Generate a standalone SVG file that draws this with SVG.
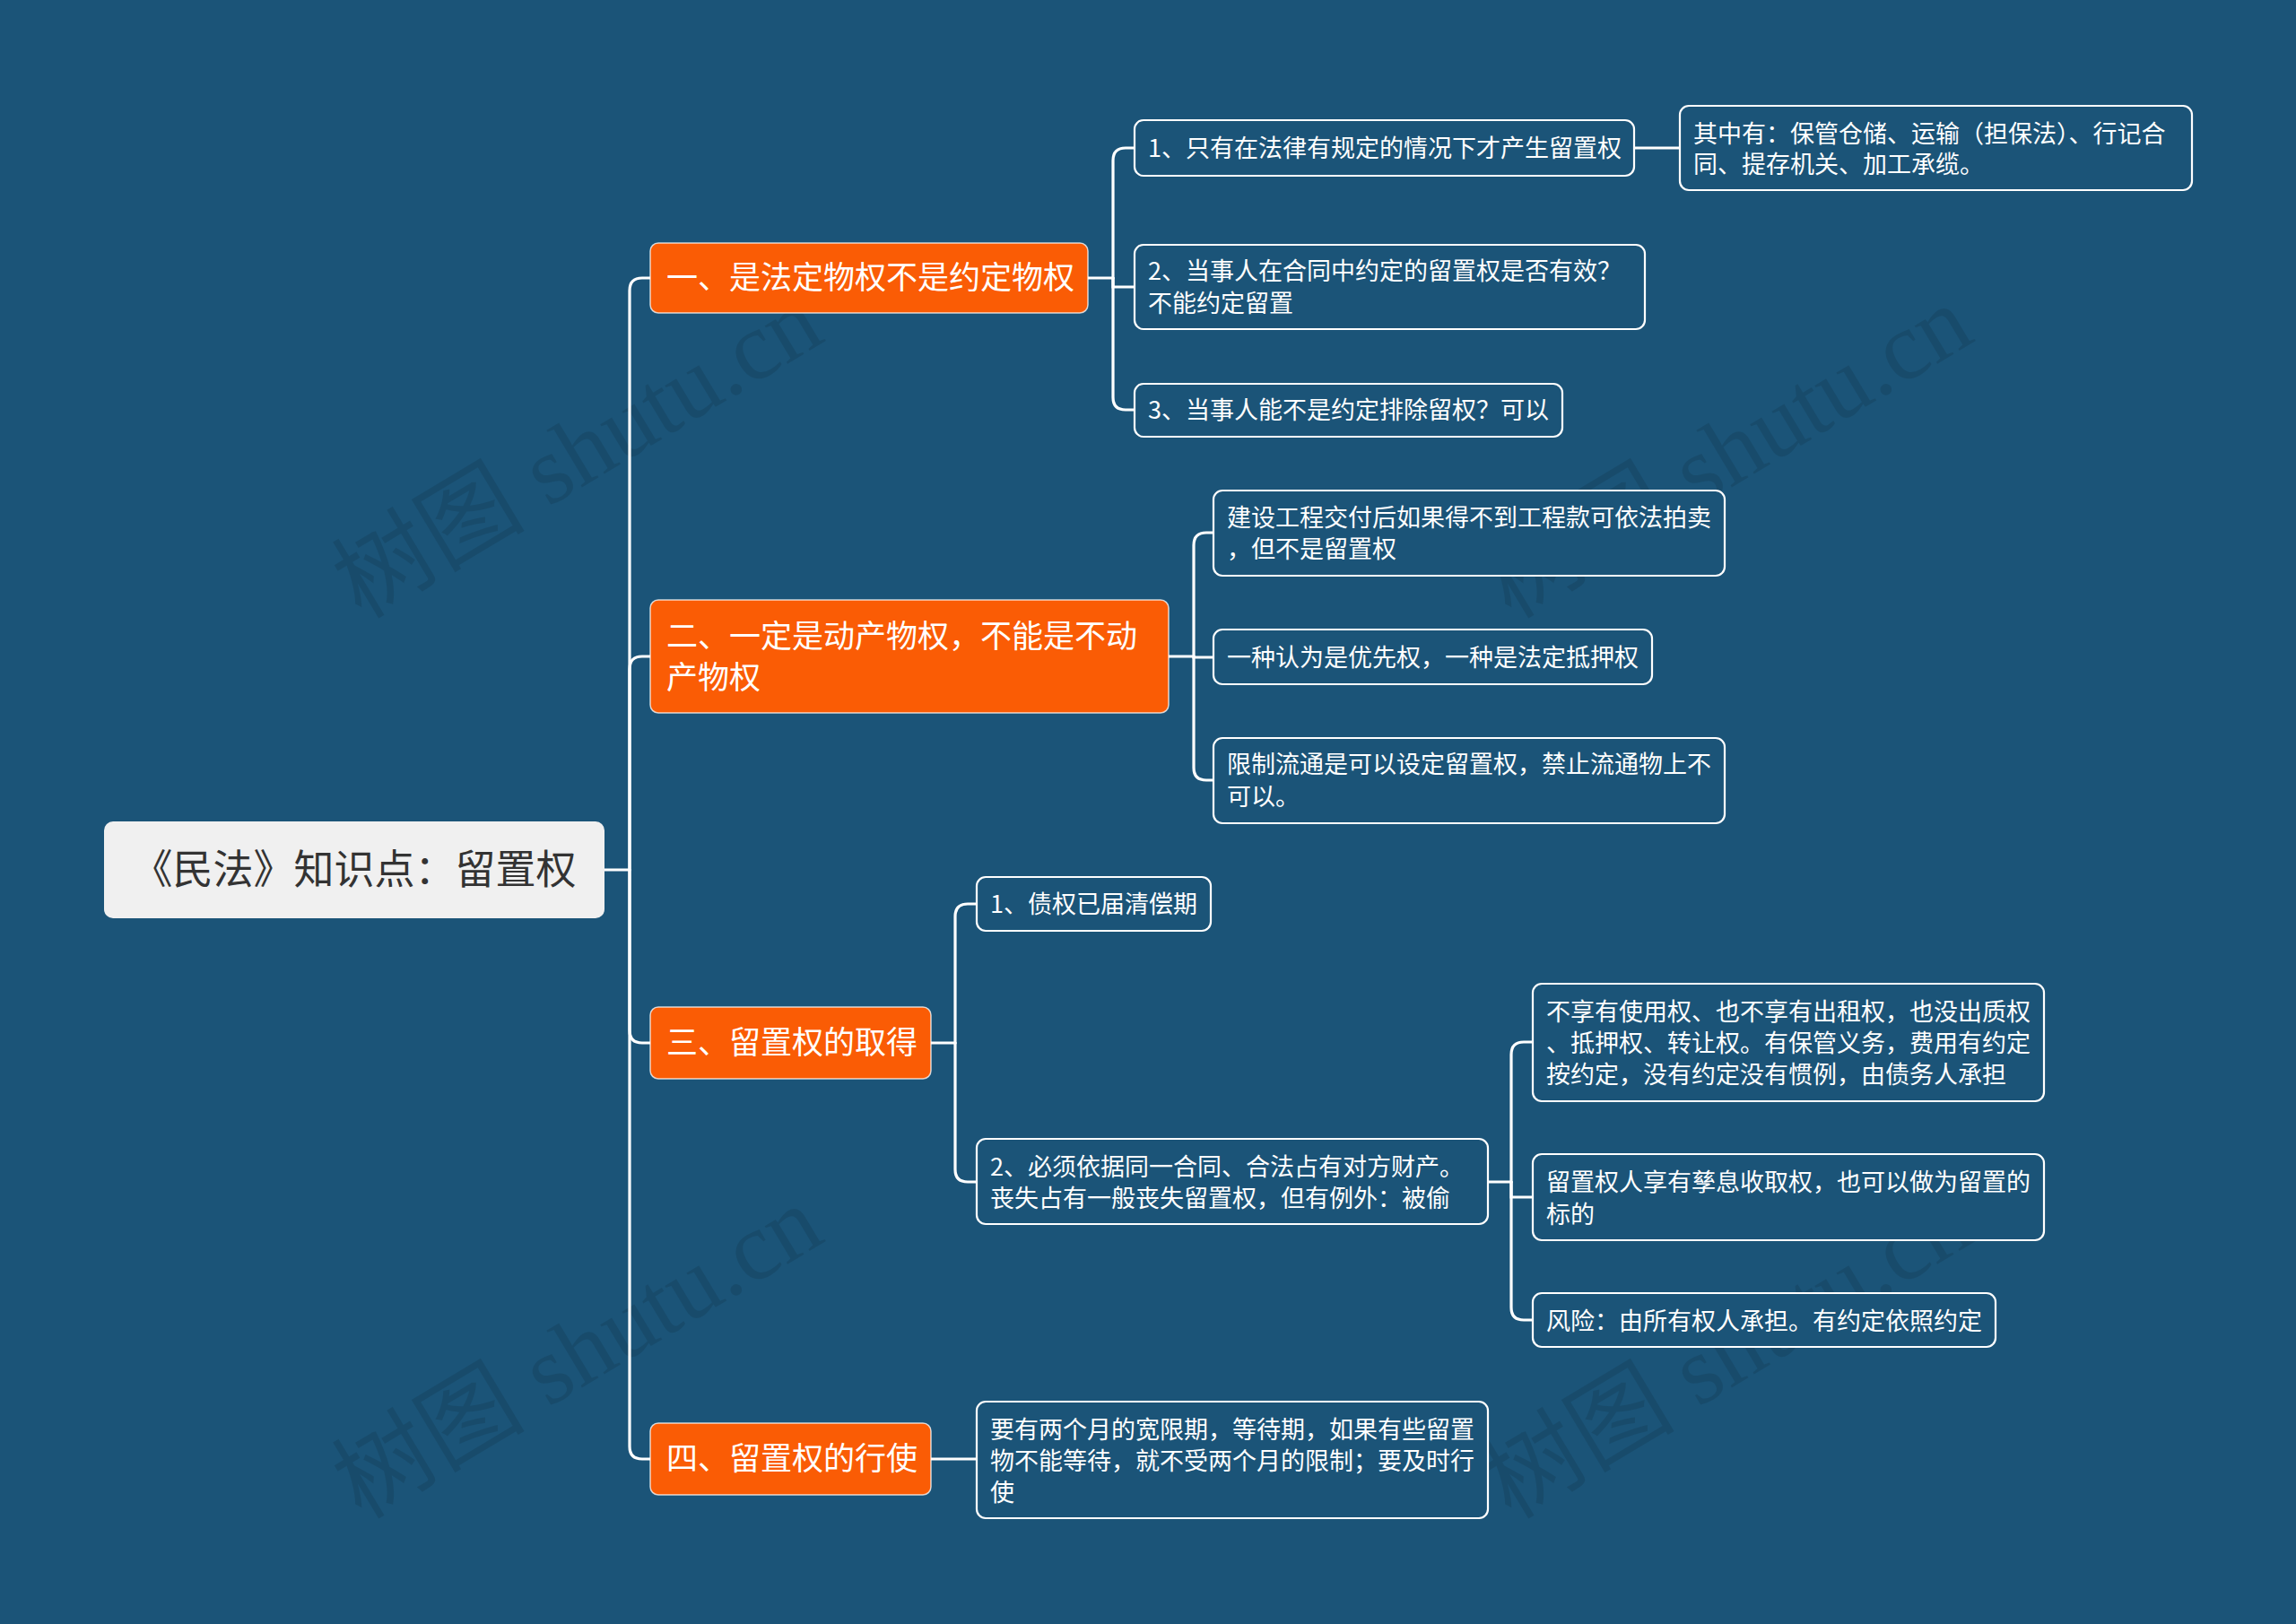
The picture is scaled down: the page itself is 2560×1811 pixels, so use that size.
<svg xmlns="http://www.w3.org/2000/svg" width="2560" height="1811" viewBox="0 0 2560 1811">
<style>
.bg{fill:#1b5478}
.root rect{fill:#f0f0f0}
.root text{fill:#333;font-size:45px}
.br rect{fill:#fa5c05;stroke:#ffffff;stroke-opacity:.75;stroke-width:1.5}
.br text{fill:#fff;font-size:35px}
.lf rect{fill:#1b5478;stroke:#ffffff;stroke-width:2.2}
.lf text{fill:#fff;font-size:27px}
text{font-family:"Noto Sans CJK SC","Noto Sans",sans-serif}
.conn path{fill:none;stroke:#ffffff;stroke-width:3.2;stroke-linecap:round}
.wm{fill:#000;fill-opacity:.1;font-family:"Liberation Serif","Noto Sans CJK SC",serif;font-size:108px}
</style>
<rect class="bg" x="0" y="0" width="2560" height="1811"/>
<g id="watermarks">
<text class="wm" x="645" y="540" text-anchor="middle" transform="rotate(-31 645 506)">树图 shutu.cn</text>
<text class="wm" x="1927" y="540" text-anchor="middle" transform="rotate(-31 1927 506)">树图 shutu.cn</text>
<text class="wm" x="645" y="1544" text-anchor="middle" transform="rotate(-31 645 1510)">树图 shutu.cn</text>
<text class="wm" x="1927" y="1544" text-anchor="middle" transform="rotate(-31 1927 1510)">树图 shutu.cn</text>
</g>
<g id="connectors" class="conn">
<path d="M674 970 H702"/>
<path d="M702 970 V324 Q702 310 716 310 H725"/>
<path d="M702 970 V746 Q702 732 716 732 H725"/>
<path d="M702 970 V1149 Q702 1163 716 1163 H725"/>
<path d="M702 970 V1613 Q702 1627 716 1627 H725"/>
<path d="M1213 310 H1241"/>
<path d="M1241 310 V179 Q1241 165 1255 165 H1265"/>
<path d="M1241 310 V320 H1265"/>
<path d="M1241 310 V443 Q1241 457 1255 457 H1265"/>
<path d="M1822 165 H1873"/>
<path d="M1303 732 H1331"/>
<path d="M1331 732 V608 Q1331 594 1345 594 H1353"/>
<path d="M1331 732 V733 H1353"/>
<path d="M1331 732 V856 Q1331 870 1345 870 H1353"/>
<path d="M1038 1163 H1065"/>
<path d="M1065 1163 V1022 Q1065 1008 1079 1008 H1089"/>
<path d="M1065 1163 V1304 Q1065 1318 1079 1318 H1089"/>
<path d="M1659 1318 H1685"/>
<path d="M1685 1318 V1176 Q1685 1162 1699 1162 H1709"/>
<path d="M1685 1318 V1335 H1709"/>
<path d="M1685 1318 V1458 Q1685 1472 1699 1472 H1709"/>
<path d="M1038 1627 H1089"/>
</g>
<g id="root" class="root">
<rect x="116" y="916" width="558" height="108" rx="10"/>
<text x="395" y="986" text-anchor="middle">《民法》知识点：留置权</text>
</g>
<g id="b1" class="br">
<rect x="725" y="271" width="488" height="78" rx="9"/>
<text x="743" y="322">一、是法定物权不是约定物权</text>
</g>
<g id="b2" class="br">
<rect x="725" y="669" width="578" height="126" rx="9"/>
<text x="743" y="722">二、一定是动产物权，不能是不动</text>
<text x="743" y="768">产物权</text>
</g>
<g id="b3" class="br">
<rect x="725" y="1123" width="313" height="80" rx="9"/>
<text x="743" y="1175">三、留置权的取得</text>
</g>
<g id="b4" class="br">
<rect x="725" y="1587" width="313" height="80" rx="9"/>
<text x="743" y="1639">四、留置权的行使</text>
</g>
<g id="l1a" class="lf">
<rect x="1265" y="134" width="557" height="62" rx="10"/>
<text x="1280" y="175">1、只有在法律有规定的情况下才产生留置权</text>
</g>
<g id="l1a1" class="lf">
<rect x="1873" y="118" width="571" height="94" rx="10"/>
<text x="1888" y="159">其中有：保管仓储、运输（担保法）、行记合</text>
<text x="1888" y="193">同、提存机关、加工承缆。</text>
</g>
<g id="l1b" class="lf">
<rect x="1265" y="273" width="569" height="94" rx="10"/>
<text x="1280" y="312">2、当事人在合同中约定的留置权是否有效？</text>
<text x="1280" y="348">不能约定留置</text>
</g>
<g id="l1c" class="lf">
<rect x="1265" y="428" width="477" height="59" rx="10"/>
<text x="1280" y="467">3、当事人能不是约定排除留权？可以</text>
</g>
<g id="l2a" class="lf">
<rect x="1353" y="547" width="570" height="95" rx="10"/>
<text x="1368" y="587">建设工程交付后如果得不到工程款可依法拍卖</text>
<text x="1368" y="622">，但不是留置权</text>
</g>
<g id="l2b" class="lf">
<rect x="1353" y="702" width="489" height="61" rx="10"/>
<text x="1368" y="743">一种认为是优先权，一种是法定抵押权</text>
</g>
<g id="l2c" class="lf">
<rect x="1353" y="823" width="570" height="95" rx="10"/>
<text x="1368" y="862">限制流通是可以设定留置权，禁止流通物上不</text>
<text x="1368" y="898">可以。</text>
</g>
<g id="l3a" class="lf">
<rect x="1089" y="978" width="261" height="60" rx="10"/>
<text x="1104" y="1018">1、债权已届清偿期</text>
</g>
<g id="l3b" class="lf">
<rect x="1089" y="1270" width="570" height="95" rx="10"/>
<text x="1104" y="1311">2、必须依据同一合同、合法占有对方财产。</text>
<text x="1104" y="1346">丧失占有一般丧失留置权，但有例外：被偷</text>
</g>
<g id="l3b1" class="lf">
<rect x="1709" y="1097" width="570" height="131" rx="10"/>
<text x="1724" y="1138">不享有使用权、也不享有出租权，也没出质权</text>
<text x="1724" y="1173">、抵押权、转让权。有保管义务，费用有约定</text>
<text x="1724" y="1208">按约定，没有约定没有惯例，由债务人承担</text>
</g>
<g id="l3b2" class="lf">
<rect x="1709" y="1287" width="570" height="96" rx="10"/>
<text x="1724" y="1328">留置权人享有孳息收取权，也可以做为留置的</text>
<text x="1724" y="1364">标的</text>
</g>
<g id="l3b3" class="lf">
<rect x="1709" y="1442" width="516" height="60" rx="10"/>
<text x="1724" y="1483">风险：由所有权人承担。有约定依照约定</text>
</g>
<g id="l4a" class="lf">
<rect x="1089" y="1563" width="570" height="130" rx="10"/>
<text x="1104" y="1604">要有两个月的宽限期，等待期，如果有些留置</text>
<text x="1104" y="1639">物不能等待，就不受两个月的限制；要及时行</text>
<text x="1104" y="1674">使</text>
</g>
</svg>
